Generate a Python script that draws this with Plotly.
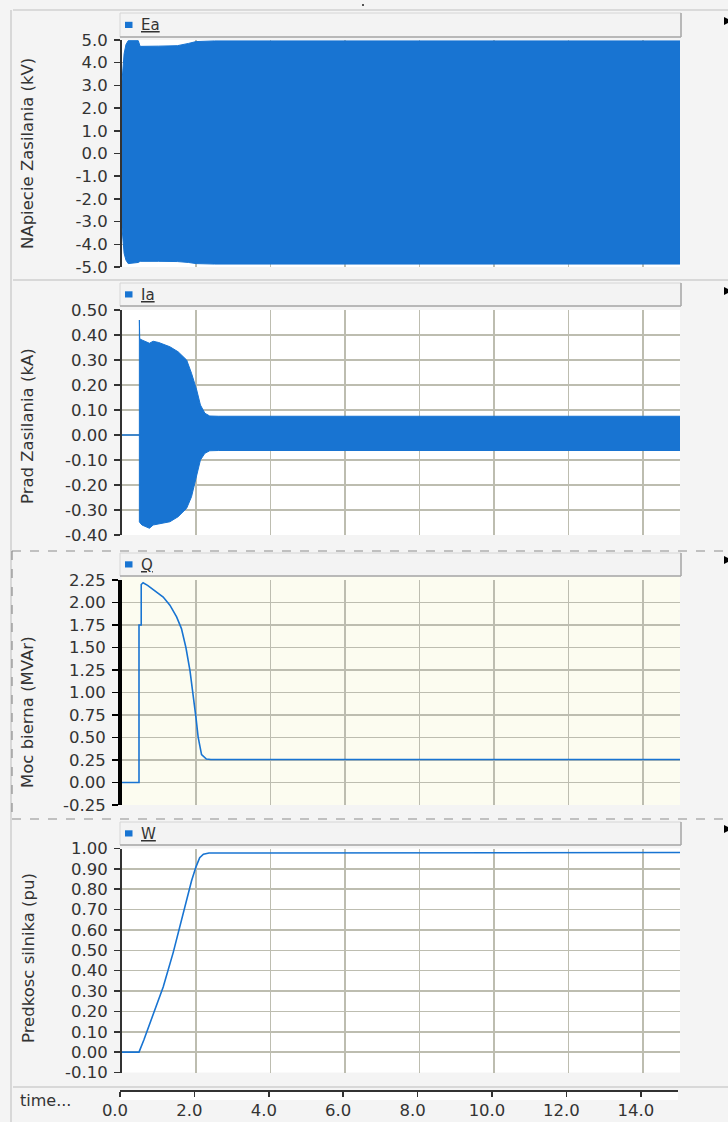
import plotly.graph_objects as go

# ---------------- data ----------------
t_Ea = [0, 0.03, 0.07, 0.12, 0.18, 0.45, 0.5, 1.0, 1.5, 1.8, 2.0, 2.5, 15]
Ea_upper = [2.9, 3.8, 4.4, 4.8, 4.97, 4.97, 4.72, 4.73, 4.75, 4.85, 4.93, 4.96, 4.96]
Ea_lower = [-3.0, -3.8, -4.4, -4.7, -4.85, -4.8, -4.75, -4.75, -4.76, -4.8, -4.85, -4.87, -4.87]

t_Ia = [0, 0.48, 0.48, 0.49, 0.55, 0.75, 0.85, 1.0, 1.3, 1.52, 1.75, 1.88, 2.02, 2.12, 2.24, 2.37, 2.6, 15]
Ia_upper = [0, 0, 0.46, 0.385, 0.38, 0.367, 0.375, 0.37, 0.353, 0.333, 0.30, 0.247, 0.18, 0.12, 0.087, 0.076, 0.075, 0.075]
Ia_lower = [0, 0, -0.347, -0.35, -0.36, -0.373, -0.36, -0.355, -0.347, -0.327, -0.293, -0.247, -0.167, -0.10, -0.073, -0.063, -0.062, -0.062]

t_Q = [0, 0.47, 0.47, 0.53, 0.53, 0.58, 0.7, 0.85, 1.0, 1.12, 1.3, 1.48, 1.61, 1.73, 1.84, 1.93, 2.0, 2.06, 2.15, 2.28, 2.4, 15]
Q = [0, 0, 1.75, 1.75, 2.2, 2.22, 2.19, 2.14, 2.10, 2.06, 1.97, 1.84, 1.71, 1.50, 1.24, 0.98, 0.72, 0.50, 0.31, 0.26, 0.255, 0.255]

t_W = [0, 0.47, 0.6, 0.85, 1.12, 1.39, 1.66, 1.88, 2.0, 2.1, 2.2, 2.35, 15]
W = [0, 0, 0.06, 0.19, 0.32, 0.49, 0.69, 0.84, 0.91, 0.955, 0.972, 0.978, 0.98]

series_names = ["Ea", "Ia", "Q", "W"]
y_titles = ["NApiecie Zasilania (kV)", "Prad Zasilania (kA)", "Moc bierna (MVAr)", "Predkosc silnika (pu)"]

y1_ticks = [5, 4, 3, 2, 1, 0, -1, -2, -3, -4, -5]
y1_labels = ["5.0", "4.0", "3.0", "2.0", "1.0", "0.0", "-1.0", "-2.0", "-3.0", "-4.0", "-5.0"]
y2_ticks = [0.5, 0.4, 0.3, 0.2, 0.1, 0, -0.1, -0.2, -0.3, -0.4]
y2_labels = ["0.50", "0.40", "0.30", "0.20", "0.10", "0.00", "-0.10", "-0.20", "-0.30", "-0.40"]
y3_ticks = [2.25, 2.0, 1.75, 1.5, 1.25, 1.0, 0.75, 0.5, 0.25, 0, -0.25]
y3_labels = ["2.25", "2.00", "1.75", "1.50", "1.25", "1.00", "0.75", "0.50", "0.25", "0.00", "-0.25"]
y4_ticks = [1.0, 0.9, 0.8, 0.7, 0.6, 0.5, 0.4, 0.3, 0.2, 0.1, 0, -0.1]
y4_labels = ["1.00", "0.90", "0.80", "0.70", "0.60", "0.50", "0.40", "0.30", "0.20", "0.10", "0.00", "-0.10"]
x_ticks = [0, 2, 4, 6, 8, 10, 12, 14]
x_labels = ["0.0", "2.0", "4.0", "6.0", "8.0", "10.0", "12.0", "14.0"]
x_range = [0, 15]
y_ranges = [[-5, 5], [-0.4, 0.5], [-0.25, 2.25], [-0.1, 1.0]]

# ---------------- layout helpers ----------------
W_PX, H_PX = 728, 1122
def fx(x):
    return x / W_PX
def fy(y):
    return 1 - y / H_PX

BLUE = "#1874D2"
GRID = "#BDBDB0"
TXT = "#333333"
FONT = "DejaVu Sans"

XL, XR = 121.5, 680
panels = [(40, 267), (310, 535), (580, 805), (848.5, 1072.5)]
bars = [(13, 37), (283, 306), (553, 576), (822, 845)]
title_centers = [154, 426, 712, 958]

fig = go.Figure()

# Ea band
fig.add_trace(go.Scatter(x=t_Ea, y=Ea_lower, mode="lines", line=dict(color=BLUE, width=1),
                         xaxis="x", yaxis="y", hoverinfo="skip", showlegend=False))
fig.add_trace(go.Scatter(x=t_Ea, y=Ea_upper, mode="lines", line=dict(color=BLUE, width=1),
                         fill="tonexty", fillcolor=BLUE,
                         xaxis="x", yaxis="y", hoverinfo="skip", showlegend=False))
# Ia band
fig.add_trace(go.Scatter(x=t_Ia, y=Ia_lower, mode="lines", line=dict(color=BLUE, width=1),
                         xaxis="x2", yaxis="y2", hoverinfo="skip", showlegend=False))
fig.add_trace(go.Scatter(x=t_Ia, y=Ia_upper, mode="lines", line=dict(color=BLUE, width=1),
                         fill="tonexty", fillcolor=BLUE,
                         xaxis="x2", yaxis="y2", hoverinfo="skip", showlegend=False))
# Q
fig.add_trace(go.Scatter(x=t_Q, y=Q, mode="lines", line=dict(color=BLUE, width=1.6),
                         xaxis="x3", yaxis="y3", hoverinfo="skip", showlegend=False))
# W
fig.add_trace(go.Scatter(x=t_W, y=W, mode="lines", line=dict(color=BLUE, width=1.6),
                         xaxis="x4", yaxis="y4", hoverinfo="skip", showlegend=False))
# dummy for bottom time axis
fig.add_trace(go.Scatter(x=x_range, y=[0, 0], mode="markers", marker=dict(opacity=0),
                         xaxis="x5", yaxis="y5", hoverinfo="skip", showlegend=False))

layout = dict(
    width=W_PX, height=H_PX,
    margin=dict(l=0, r=0, t=0, b=0, pad=0, autoexpand=False),
    paper_bgcolor="#F4F4F4",
    plot_bgcolor="#FFFFFF",
    font=dict(family=FONT, color=TXT, size=14),
    showlegend=False,
)

ytick_sets = [(y1_ticks, y1_labels), (y2_ticks, y2_labels), (y3_ticks, y3_labels), (y4_ticks, y4_labels)]
for i in range(4):
    n = "" if i == 0 else str(i + 1)
    top, bot = panels[i]
    layout["xaxis" + n] = dict(domain=[fx(XL), fx(XR)], anchor="y" + n, range=x_range,
                               tickvals=x_ticks, showticklabels=False, ticks="",
                               showgrid=True, gridcolor=GRID, gridwidth=1.5,
                               zeroline=False, showline=False, fixedrange=True, automargin=False)
    tv, tt = ytick_sets[i]
    layout["yaxis" + n] = dict(domain=[fy(bot), fy(top)], anchor="x" + n, range=y_ranges[i],
                               tickvals=tv, ticktext=tt, ticks="outside", ticklen=6,
                               tickcolor=TXT if i != 2 else "#000000", tickwidth=1.5,
                               showline=True,
                               linecolor=TXT if i != 2 else "#000000",
                               linewidth=1.5 if i != 2 else 3.5,
                               showgrid=True, gridcolor=GRID, gridwidth=1.5,
                               zeroline=False, tickfont=dict(size=16.5, color=TXT),
                               ticklabelstandoff=3, fixedrange=True, automargin=False)

layout["yaxis5"] = dict(domain=[fy(1100), fy(1090)], anchor="x5", visible=False, range=[-1, 1])
layout["xaxis5"] = dict(domain=[fx(XL - 1.5), fx(XR - 2)], anchor="free", position=fy(1090),
                        range=x_range, side="bottom",
                        tickvals=x_ticks, ticktext=x_labels, ticks="outside", ticklen=5,
                        tickwidth=1.5, tickcolor=TXT, showline=True, linecolor=TXT, linewidth=1.5,
                        showgrid=False, zeroline=False, tickfont=dict(size=16.5, color=TXT),
                        ticklabelshift=-5, ticklabelstandoff=0, fixedrange=True, automargin=False)

shapes = []
def prect(x0, y0, x1, y1, **kw):
    shapes.append(dict(type="rect", xref="paper", yref="paper",
                       x0=fx(x0), x1=fx(x1), y0=fy(y1), y1=fy(y0), **kw))
def pline(x0, y0, x1, y1, color, width=1, dash="solid"):
    shapes.append(dict(type="line", xref="paper", yref="paper",
                       x0=fx(x0), x1=fx(x1), y0=fy(y0), y1=fy(y1),
                       line=dict(color=color, width=width, dash=dash)))

# ivory background of the selected (third) panel
shapes.append(dict(type="rect", xref="x3 domain", yref="y3 domain", x0=0, x1=1, y0=0, y1=1.02,
                   fillcolor="#FCFCF0", line=dict(width=0), layer="below"))

# frame lines
pline(13, 10, 728, 10, "#D2D2D2", 1.5)
pline(11, 10, 11, 1122, "#CFCFCF", 1.5)
pline(13, 280, 728, 280, "#CFCFCF", 1.5)
pline(13, 1087, 728, 1087, "#CFCFCF", 1.5)
# dashed selection box around the third panel
pline(12, 551, 728, 551, "#8C8C8C", 1.2, "dash")
pline(12, 819, 728, 819, "#8C8C8C", 1.2, "dash")
pline(12, 551, 12, 819, "#8C8C8C", 1.2, "dash")
# small dark dot at top centre
prect(362, 4, 364, 6, fillcolor="#555555", line=dict(width=0))

annotations = []
for i in range(4):
    b0, b1 = bars[i]
    prect(120, b0, 681, b1, fillcolor="#F3F3F3", line=dict(color="#D6D6D6", width=1))
    pline(120, b1, 681, b1, "#A9A9A9", 1.5)
    pline(681, b0, 681, b1, "#A9A9A9", 1.5)
    cy = (b0 + b1) / 2
    prect(125, cy - 3.2, 132.5, cy + 3, fillcolor=BLUE, line=dict(width=0))
    annotations.append(dict(text="<u>" + series_names[i] + "</u>", xref="paper", yref="paper",
                            x=fx(139), y=fy(cy + 0.5), xanchor="left", yanchor="middle",
                            showarrow=False, font=dict(size=15, color=TXT, family=FONT)))
    # y axis title
    annotations.append(dict(text=y_titles[i], xref="paper", yref="paper",
                            x=fx(28), y=fy(title_centers[i]), xanchor="center", yanchor="middle",
                            textangle=-90, showarrow=False,
                            font=dict(size=16.5, color=TXT, family=FONT)))
    # small black marker at right edge
    ty = [21, 291, 560, 829][i]
    shapes.append(dict(type="path", xref="paper", yref="paper",
                       path="M {} {} L {} {} L {} {} Z".format(fx(724), fy(ty - 4), fx(732), fy(ty), fx(724), fy(ty + 4)),
                       fillcolor="#000000", line=dict(width=0)))

annotations.append(dict(text="time...", xref="paper", yref="paper", x=fx(18), y=fy(1100),
                        xanchor="left", yanchor="middle", showarrow=False,
                        font=dict(size=16, color=TXT, family=FONT)))

layout["shapes"] = shapes
layout["annotations"] = annotations
fig.update_layout(**layout)
fig.write_html("out.html", config={"displayModeBar": False, "staticPlot": True},
               post_script="document.body.style.margin='0';document.body.style.padding='0';")
